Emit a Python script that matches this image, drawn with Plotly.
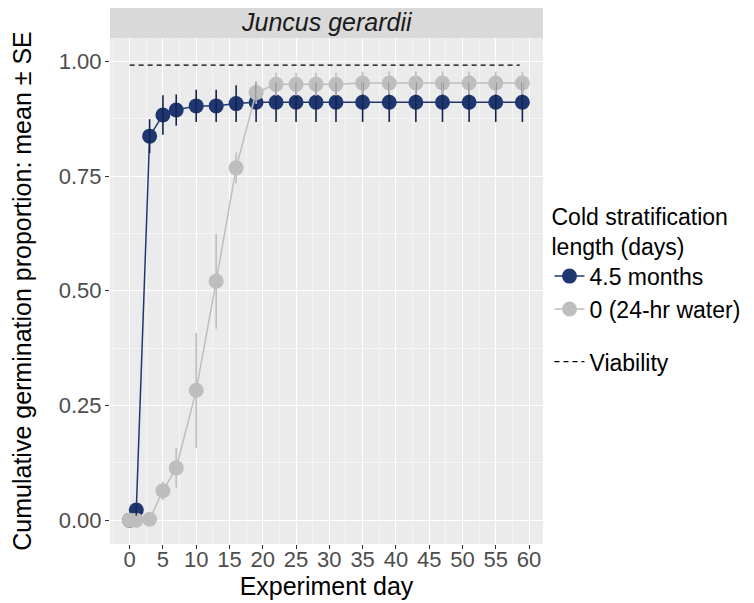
import plotly.graph_objects as go

# Juncus gerardii cumulative germination
days = [0, 1, 3, 5, 7, 10, 13, 16, 19, 22, 25, 28, 31, 35, 39, 43, 47, 51, 55, 59]

cold_mean = [0.0, 0.022, 0.837, 0.883, 0.894, 0.903, 0.903, 0.908, 0.911, 0.911,
             0.911, 0.911, 0.911, 0.911, 0.911, 0.911, 0.911, 0.911, 0.911, 0.911]
cold_se = [0.0, 0.012, 0.037, 0.043, 0.034, 0.035, 0.035, 0.040, 0.043, 0.043,
           0.043, 0.043, 0.043, 0.043, 0.043, 0.043, 0.043, 0.043, 0.043, 0.043]

water_mean = [0.0, 0.0, 0.002, 0.064, 0.114, 0.283, 0.521, 0.768, 0.932, 0.950,
              0.950, 0.950, 0.950, 0.953, 0.953, 0.953, 0.953, 0.953, 0.953, 0.953]
water_se = [0.0, 0.0, 0.0, 0.020, 0.043, 0.125, 0.104, 0.034, 0.025, 0.025,
            0.025, 0.025, 0.025, 0.025, 0.025, 0.025, 0.025, 0.025, 0.025, 0.025]

viability_x = [0, 58.6]
viability_y = [0.992, 0.992]

NAVY = '#1F3771'
NAVY_DARK = '#14244F'
GREY = '#BEBEBE'
FONT = 'Liberation Sans, Arial, sans-serif'

fig = go.Figure()

fig.add_trace(go.Scatter(
    x=viability_x, y=viability_y, mode='lines', name='Viability',
    line=dict(color='black', width=1.2, dash='5px,4px'), legend='legend2'
))
fig.add_trace(go.Scatter(
    x=days, y=cold_mean, mode='lines+markers', name='4.5 months',
    line=dict(color=NAVY, width=1.5),
    marker=dict(color=NAVY, size=15)
))
fig.add_trace(go.Scatter(
    x=days, y=water_mean, mode='lines+markers', name='0 (24-hr water)',
    line=dict(color=GREY, width=1.5),
    marker=dict(color=GREY, size=15)
))
# error bars on top of the points
fig.add_trace(go.Scatter(
    x=days, y=cold_mean, mode='markers', showlegend=False,
    marker=dict(size=0.1, opacity=0),
    error_y=dict(type='data', array=cold_se, color=NAVY_DARK, thickness=1.6, width=0)
))
fig.add_trace(go.Scatter(
    x=days, y=water_mean, mode='markers', showlegend=False,
    marker=dict(size=0.1, opacity=0),
    error_y=dict(type='data', array=water_se, color=GREY, thickness=1.6, width=0)
))

axis_common = dict(
    showline=False, zeroline=False, gridcolor='white', gridwidth=1.2,
    ticks='outside', ticklen=4, tickcolor='#333333', automargin=False,
    tickfont=dict(size=22, color='#4D4D4D', family=FONT),
    minor=dict(showgrid=True, gridcolor='#F5F5F5', gridwidth=0.6),
)

fig.update_xaxes(
    range=[-2.95, 62.1], tickvals=list(range(0, 61, 5)), ticklabelstandoff=-8,
    title=dict(text='Experiment day', font=dict(size=25, color='black', family=FONT), standoff=2),
    minor_dtick=2.5, minor_tick0=2.5, **axis_common
)
fig.update_yaxes(
    range=[-0.052, 1.051], tickvals=[0, 0.25, 0.5, 0.75, 1.0], tickformat='.2f',
    ticklabelstandoff=-1,
    title=dict(text='Cumulative germination proportion: mean ± SE',
               font=dict(size=25, color='black', family=FONT), standoff=27),
    minor_dtick=0.125, minor_tick0=0.125, **axis_common
)

# facet strip
fig.add_shape(type='rect', xref='paper', yref='paper', x0=0, x1=1, y0=1.0, y1=1.06,
              fillcolor='#D9D9D9', line=dict(width=0), layer='below')
fig.add_annotation(text='<i>Juncus gerardii</i>', xref='paper', yref='paper', x=0.5, y=1.0316,
                   xanchor='center', yanchor='middle',
                   showarrow=False, font=dict(size=25, color='#1A1A1A', family=FONT))

# page body has an 8px margin, so the figure is 8px smaller than the window
fig.update_layout(
    width=746, height=595,
    margin=dict(l=102, r=211, t=30, b=59, autoexpand=False),
    plot_bgcolor='#EBEBEB', paper_bgcolor='white',
    font=dict(family=FONT),
    legend=dict(
        title=dict(text='Cold stratification<br>length (days)', font=dict(size=23, color='black')),
        x=1.015, y=0.69, xanchor='left', yanchor='top',
        font=dict(size=23, color='black'), itemwidth=30, tracegroupgap=0,
        bgcolor='rgba(0,0,0,0)'
    ),
    legend2=dict(
        x=1.015, y=0.403, xanchor='left', yanchor='top',
        font=dict(size=23, color='black'), itemwidth=30,
        bgcolor='rgba(0,0,0,0)'
    ),
)

fig.write_html("out.html")
